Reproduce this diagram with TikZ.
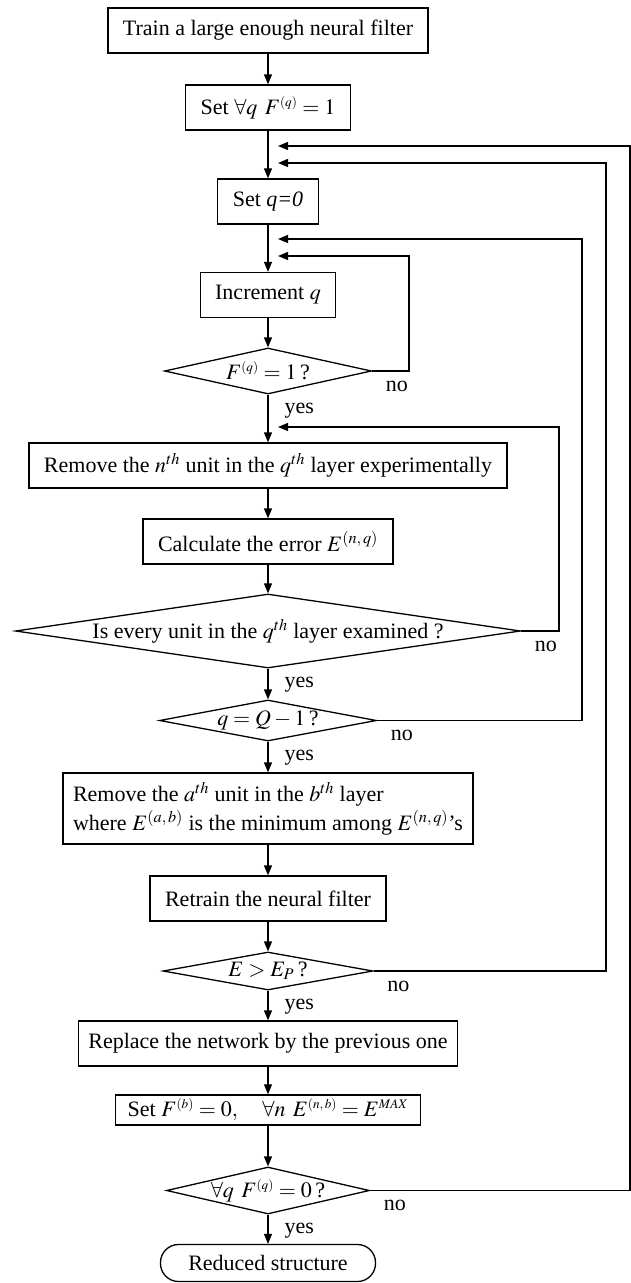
\documentclass[tikz,border=0pt]{standalone}
\usepackage{mathptmx}
\usepackage[no-math]{fontspec}
\setmainfont{Liberation Serif}
\usepackage{tikz}
\usetikzlibrary{shapes.geometric,arrows.meta}
\newcommand{\tinysup}[1]{^{\scriptscriptstyle #1}}
\thickmuskip=4mu plus 2mu

\begin{document}
\begin{tikzpicture}[x=1pt, y=-1pt, font=\fontsize{22}{29}\selectfont,
        decision/.style={diamond, inner xsep=-40pt, inner ysep=0pt},
        yeslbl/.style={anchor=north west, pos=0, xshift=15pt, yshift=-7pt, inner sep=1pt},
        nolbl/.style={anchor=north west, xshift=12pt, yshift=-8pt, inner sep=1pt}]
    \useasboundingbox (0,0) rectangle (631,1283);
    \begin{scope}[every node/.style={draw, line width=1.3pt, inner xsep=15pt, inner ysep=4pt, minimum height=45pt}]
        \node (train) at (268,30.5) {Train a large enough neural filter};
        \node (setall) at (268,107.5) {Set $\forall q\;\, F\tinysup{(q)}=1$};
        \node (setq) at (268,201.5) {Set \textit{q=0}};
        \node (incr) at (268,295) {Increment $q$};
        \node[decision, aspect=4.5, minimum width=207pt, minimum height=46pt] (isone) at (268,371) {$F\tinysup{(q)}=1$\,?};
        \node (rmunit) at (268,465.5) {Remove the $n^{th}$ unit in the $q^{th}$ layer experimentally};
        \node (calc) at (268,541.5) {Calculate the error $E^{(n,\,q)}$};
        \node[decision, aspect=6.8, minimum width=505pt, minimum height=74pt] (allunits) at (268,631) {Is every unit in the $q^{th}$ layer examined ?};
        \node[decision, aspect=5.3, minimum width=217pt, minimum height=41pt] (lastlayer) at (268,720.5) {$q=Q-1$\,?};
        \node[align=left, inner xsep=10pt, minimum height=71pt] (rmmin) at (268,808.5) {Remove the $a^{th}$ unit in the $b^{th}$ layer\\ where $E^{(a,\,b)}$ is the minimum among $E^{(n,\,q)}$’s};
        \node (retrain) at (268,898.5) {Retrain the neural filter};
        \node[decision, aspect=5.5, minimum width=210pt, minimum height=38pt] (errtest) at (268,971) {$E>E_P$\,?};
        \node[inner xsep=10pt] (replace) at (268,1043.5) {Replace the network by the previous one};
        \node[inner xsep=12pt, minimum height=29pt] (setzero) at (268,1110) {Set $F\tinysup{(b)}=0,\quad \forall n\;\, E\tinysup{(n,\,b)}=E\tinysup{MAX}$};
        \node[decision, aspect=4.3, minimum width=203pt, minimum height=47pt] (allzero) at (268,1190.5) {$\forall q\;\, F\tinysup{(q)}=0$\,?};
        \node[rounded corners=18pt, minimum width=215pt, minimum height=37pt] (done) at (268,1263) {Reduced structure};
    \end{scope}

    % where the loops come back in
    \coordinate (j1) at (268,146);
    \coordinate (j2) at (268,163);
    \coordinate (j3) at (268,239);
    \coordinate (j4) at (268,256);
    \coordinate (j5) at (268,427);

    \begin{scope}[every path/.style={line width=1.3pt, ->, >={Triangle[length=10pt, width=8pt]}}]
        \path (train) edge (setall);
        \path (setall) edge (setq);
        \path (setq) edge (incr);
        \path (incr) edge (isone);
        \path (isone) edge node[yeslbl] {yes} (rmunit);
        \path (rmunit) edge (calc);
        \path (calc) edge (allunits);
        \path (allunits) edge node[yeslbl] {yes} (lastlayer);
        \path (lastlayer) edge node[yeslbl] {yes} (rmmin);
        \path (rmmin) edge (retrain);
        \path (retrain) edge (errtest);
        \path (errtest) edge node[yeslbl] {yes} (replace);
        \path (replace) edge (setzero);
        \path (setzero) edge (allzero);
        \path (allzero) edge node[yeslbl] {yes} (done);

        \draw (isone.east) node[nolbl] {no} -| ([xshift=141pt]j4) -- ([xshift=10pt]j4);
        \draw (allunits.east) node[nolbl] {no} -| ([xshift=291pt]j5) -- ([xshift=10pt]j5);
        \draw (lastlayer.east) node[nolbl] {no} -| ([xshift=314pt]j3) -- ([xshift=10pt]j3);
        \draw (errtest.east) node[nolbl] {no} -| ([xshift=338pt]j2) -- ([xshift=10pt]j2);
        \draw (allzero.east) node[nolbl] {no} -| ([xshift=362pt]j1) -- ([xshift=10pt]j1);
    \end{scope}
\end{tikzpicture}
\end{document}
